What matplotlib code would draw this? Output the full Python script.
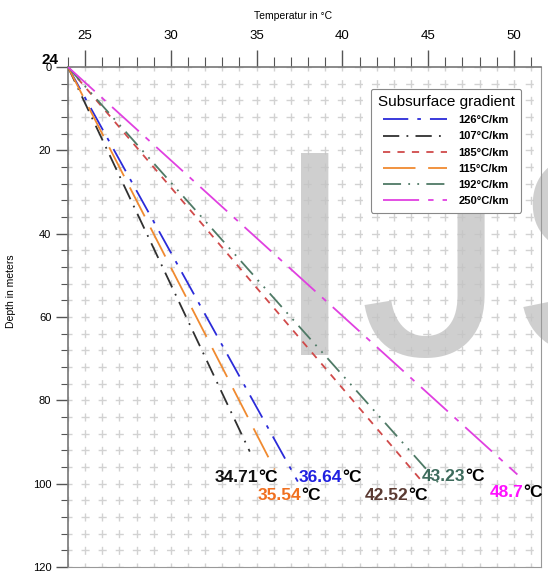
import matplotlib.pyplot as plt
from matplotlib.ticker import MultipleLocator

# gradient lines, all start at 24 °C at the surface
gradients = ['126°C/km', '107°C/km', '185°C/km', '115°C/km', '192°C/km', '250°C/km']
start_temp = 24
end_temp = [37.4, 34.6, 44.65, 36.05, 45.6, 50.2]
end_depth = [99.5, 92.3, 99.5, 96.6, 99.8, 97.8]
bottom_temps = ['36.64', '34.71', '42.52', '35.54', '43.23', '48.7']

# label anchor (temperature, depth) for the bottom values
label_pos = [(37.46, 98.6), (32.54, 98.6), (41.3, 102.9), (35.06, 102.9), (44.6, 98.3), (48.6, 102.2)]

line_colors = ['#2b2bd9', '#303030', '#d04a4a', '#f08a30', '#4f7a66', '#e040e0']
text_colors = ['#2020e0', '#111111', '#5a3a32', '#f07020', '#3d6b5c', '#ff10ff']
styles = [(0, (14, 5, 2, 5)), (0, (9, 4, 1, 4)), (0, (4, 4)),
          (0, (18, 7)), (0, (10, 4, 1, 4, 1, 4)), (0, (20, 5, 3, 5))]

plt.rcParams['font.family'] = ['Liberation Sans', 'DejaVu Sans']

fig = plt.figure(figsize=(5.48, 5.74), dpi=100)
ax = fig.add_axes([0.124, 0.0122, 0.863, 0.8711])

# faint watermark from the scanned page (drawn in the axes so lines and legend sit on top)
wm = dict(fontsize=211, color='#c4c4c4', alpha=0.8, va='baseline', zorder=2,
          transform=fig.transFigure, clip_on=False)
ax.text(315 / 548, 1 - 355 / 574, 'I', ha='center', **wm)
ax.text(433 / 548, 1 - 355 / 574, 'J', ha='center', **wm)
s = ax.text(510 / 548, 1 - 355 / 574, 'S', ha='left', **wm)
s.set_clip_on(True)
s.set_clip_box(fig.bbox)

for i in range(len(gradients)):
    ax.plot([start_temp, end_temp[i]], [0, end_depth[i]], color=line_colors[i],
            linestyle=styles[i], lw=1.3, label=gradients[i], zorder=3)
    t = ax.text(label_pos[i][0], label_pos[i][1], bottom_temps[i], color=text_colors[i],
                fontsize=12.5, fontweight='bold', ha='left', va='center', zorder=4)
    ax.annotate('°C', xy=(1, 0), xycoords=t, ha='left', va='bottom',
                fontsize=12.5, fontweight='bold', color='black', zorder=4)

ax.set_xlim(24, 51.57)
ax.set_ylim(120, 0)
ax.xaxis.tick_top()
ax.xaxis.set_major_locator(MultipleLocator(5))
ax.xaxis.set_minor_locator(MultipleLocator(1))
ax.yaxis.set_major_locator(MultipleLocator(20))
ax.yaxis.set_minor_locator(MultipleLocator(4))
ax.set_xticks([25, 30, 35, 40, 45, 50])
ax.tick_params(axis='x', which='major', length=12, width=1, labelsize=9.5, pad=6, color='#555555')
ax.tick_params(axis='x', which='minor', length=7, width=0.8, color='#555555')
ax.tick_params(axis='y', which='major', length=9, width=1, labelsize=8, pad=3, color='#555555')
ax.tick_params(axis='y', which='minor', length=5, width=0.8, color='#555555')

# dashed grid, dashes centred on the crossings
ax.xaxis.grid(True, which='both', color='#d2d2d2', linestyle=(2.9, (5.8, 6.2)), lw=1, zorder=1)
ax.yaxis.grid(True, which='both', color='#d2d2d2', linestyle=(2.9, (5.8, 6.5)), lw=1, zorder=1)
ax.set_axisbelow(True)

for side in ['top', 'left']:
    ax.spines[side].set_color('#777777')
    ax.spines[side].set_linewidth(1.2)
for side in ['bottom', 'right']:
    ax.spines[side].set_color('#999999')
    ax.spines[side].set_linewidth(0.8)

fig.text(50 / 548, 1 - 60 / 574, '24', fontsize=11, fontweight='bold', ha='center', va='center')
fig.text(293 / 548, 1 - 16 / 574, 'Temperatur in °C', fontsize=7.5, ha='center', va='center')
fig.text(11 / 548, 1 - 291 / 574, 'Depth in meters', fontsize=7.5, rotation=90, ha='center', va='center')

leg = ax.legend(loc='upper right', bbox_to_anchor=(0.970, 0.968), title='Subsurface gradient',
                title_fontsize=11, prop={'size': 8, 'weight': 'bold'}, handlelength=5.8,
                handletextpad=1.0, labelspacing=0.55, borderpad=0.6, fancybox=True,
                framealpha=1, edgecolor='#888888')
leg.get_frame().set_linewidth(0.8)
leg.set_zorder(5)

fig.savefig('out.png', dpi=100)
